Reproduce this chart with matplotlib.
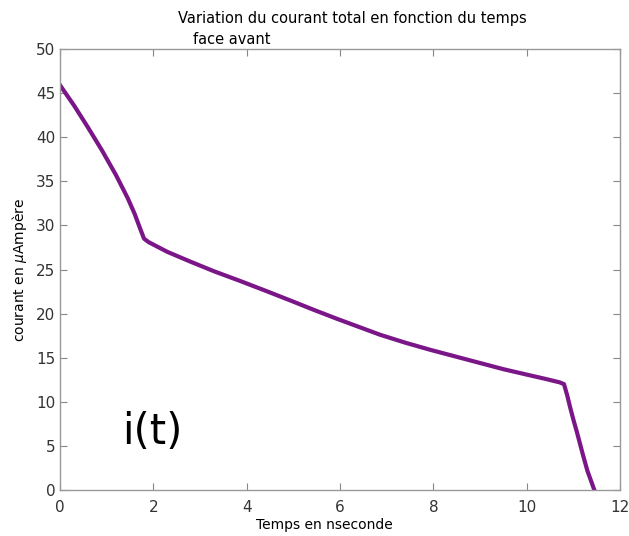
import matplotlib
matplotlib.use("Agg")
import matplotlib.pyplot as plt
import numpy as np

# temps (ns) et courant (uA)
t_ns = [0.0, 0.3, 0.6, 0.9, 1.2, 1.45, 1.6, 1.72, 1.8, 1.9, 2.3, 2.79, 3.3,
        3.86, 4.4, 4.93, 5.45, 5.94, 6.4, 6.86, 7.4, 7.93, 8.5, 9.0, 9.5,
        10.07, 10.4, 10.71, 10.8, 10.87, 10.93, 11.0, 11.08, 11.2, 11.3, 11.45]
i_uA = [45.9, 43.6, 41.1, 38.5, 35.7, 33.1, 31.3, 29.6, 28.5, 28.1, 27.0,
        25.9, 24.8, 23.7, 22.6, 21.5, 20.4, 19.4, 18.5, 17.6, 16.7, 15.9,
        15.1, 14.4, 13.7, 13.0, 12.6, 12.2, 12.0, 10.7, 9.4, 8.0, 6.5, 4.1,
        2.2, 0.0]

xticks = np.arange(0, 13, 2)
yticks = np.arange(0, 51, 5)

fig = plt.figure(figsize=(6.29, 5.36), dpi=100)
ax = fig.add_axes([0.0954, 0.0858, 0.8903, 0.8228])

ax.plot(t_ns, i_uA, color="#7b1688", lw=3.0, solid_joinstyle="round")

ax.set_xlim(0, 12)
ax.set_ylim(0, 50)
ax.set_xticks(xticks)
ax.set_yticks(yticks)
ax.tick_params(direction="in", top=True, right=True, length=5,
               color="#888888", labelsize=11, labelcolor="#333333")
ax.tick_params(axis="x", pad=7)
for s in ax.spines.values():
    s.set_color("#999999")
    s.set_linewidth(1.0)

ax.text(1.33, 6.6, "i(t)", fontsize=30, va="center", ha="left")

fig.text(178 / 629, 1 - 18 / 536, "Variation du courant total en fonction du temps",
         fontsize=10.5, va="center", ha="left")
fig.text(193 / 629, 1 - 40 / 536, "face avant", fontsize=10.5, va="center", ha="left")
fig.text(324 / 629, 1 - 525 / 536, "Temps en nseconde", fontsize=10, va="center", ha="center")
fig.text(20 / 629, 1 - 270 / 536, r"courant en $\mu$Ampère", fontsize=10,
         va="center", ha="center", rotation=90)

fig.savefig("out.png", dpi=100)
